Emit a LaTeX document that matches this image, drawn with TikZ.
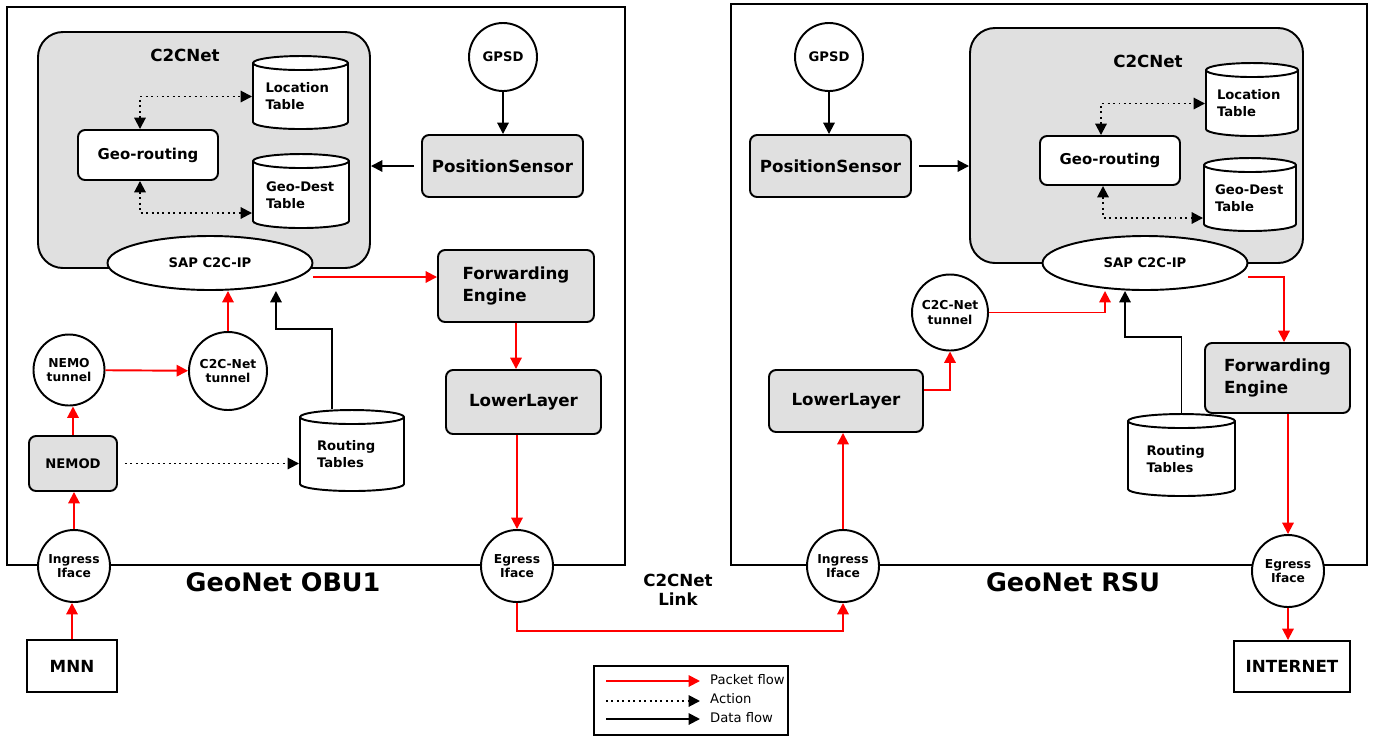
\documentclass[tikz,border=0pt]{standalone}
\usepackage{fontspec}
\setmainfont{DejaVu Sans}
\usepackage{xcolor}
\usepackage{tikz}
\usetikzlibrary{arrows.meta,shapes.geometric}
\definecolor{boxgray}{RGB}{224,224,224}

\begin{document}
\begin{tikzpicture}[x=0.02cm,y=-0.02cm,>={Triangle[length=6.5pt,width=6.5pt]},
  sz/.style 2 args={minimum width=#1*0.02cm,minimum height=#2*0.02cm},
  frame/.style={draw,line width=1.1pt,inner sep=0pt},
  c2cbox/.style={draw,line width=1.1pt,fill=boxgray,rounded corners=0.5cm},
  c2clabel/.style={font=\bfseries\fontsize{9.5}{11}\selectfont},
  modbox/.style={draw,line width=1.1pt,fill=boxgray,rounded corners=4pt,align=left,
    font=\bfseries\fontsize{9.5}{12.5}\selectfont},
  wbox/.style={draw,line width=1.1pt,fill=white,rounded corners=4pt,
    font=\bfseries\fontsize{8.5}{10}\selectfont},
  plainbox/.style={draw,line width=1.1pt,fill=white,font=\bfseries\fontsize{9.5}{11}\selectfont},
  circ/.style={circle,draw,line width=1.1pt,fill=white,inner sep=0pt,align=center,
    minimum size=#1*0.02cm,font=\bfseries\fontsize{7}{8.2}\selectfont},
  circ/.default=72,
  sap/.style={ellipse,draw,line width=1.1pt,fill=white,inner sep=0pt,sz={205}{54},
    font=\bfseries\fontsize{7.5}{9}\selectfont},
  table/.style={cylinder,shape border rotate=90,aspect=0.2,draw,line width=1.1pt,fill=white,
    inner sep=0pt,align=left,text width=1.4cm,font=\bfseries\fontsize{7.5}{9.6}\selectfont},
  title/.style={font=\bfseries\fontsize{14.5}{17}\selectfont},
  legtext/.style={anchor=west,font=\fontsize{7.5}{9}\selectfont},
  pkt/.style={red,line width=1.1pt,->},
  act/.style={line width=1.1pt,dotted,->},
  dat/.style={line width=1.1pt,->}]
\useasboundingbox (0,0) rectangle (1380,738);
% Frames
\node[frame,sz={618}{558}] (obu) at (316,286) {};
\node[frame,sz={636}{561}] (rsu) at (1049,284.5) {};
\node[title] (obul) at (283,582) {GeoNet OBU1};
\node[title] (rsul) at (1073,582) {GeoNet RSU};
\node[c2clabel,align=center] (link) at (678,590) {C2CNet\\Link};

% OBU1
\node[c2cbox,sz={332}{236}] (c2c1) at (204,150) {};
\node[c2clabel] (c2cl1) at (185,55) {C2CNet};
\node[table,sz={95}{73}] (lt1) at (300.5,96.5) {Location\\Table};
\node[table,sz={96}{74}] (gd1) at (301,195) {Geo-Dest\\Table};
\node[wbox,sz={140}{50}] (gr1) at (148,155) {Geo-routing};
\node[sap] (sap1) at (210,263) {SAP C2C-IP};
\node[circ=68,font=\bfseries\fontsize{7.5}{9}\selectfont] (gpsd1) at (503,57) {GPSD};
\node[modbox,sz={161}{62}] (ps1) at (502.5,166) {PositionSensor};
\node[modbox,sz={156}{72}] (fe1) at (516,286) {Forwarding\\Engine};
\node[modbox,sz={155}{64}] (ll1) at (523.5,402) {LowerLayer};
\node[circ=78] (ct1) at (228,371) {C2C-Net\\tunnel};
\node[circ=71] (nt1) at (69,370) {NEMO\\tunnel};
\node[modbox,sz={88}{55},font=\bfseries\fontsize{7.5}{9}\selectfont] (nemod1) at (73,463.5) {NEMOD};
\node[table,sz={104}{81}] (rt1) at (352,454.5) {Routing\\Tables};
\node[circ] (in1) at (74,566) {Ingress\\Iface};
\node[circ] (eg1) at (517,566) {Egress\\Iface};
\node[plainbox,sz={90}{52}] (mnn) at (72,666) {MNN};

% RSU
\node[c2cbox,sz={333}{235}] (c2c2) at (1136.5,145.5) {};
\node[c2clabel] (c2cl2) at (1148,61) {C2CNet};
\node[table,sz={92}{73}] (lt2) at (1252,103.5) {Location\\Table};
\node[table,sz={92}{73}] (gd2) at (1250,198.5) {Geo-Dest\\Table};
\node[wbox,sz={140}{49}] (gr2) at (1110,160.5) {Geo-routing};
\node[sap] (sap2) at (1145,263) {SAP C2C-IP};
\node[circ=68,font=\bfseries\fontsize{7.5}{9}\selectfont] (gpsd2) at (829,57) {GPSD};
\node[modbox,sz={161}{62}] (ps2) at (830.5,166) {PositionSensor};
\node[circ=76] (ct2) at (950,312.5) {C2C-Net\\tunnel};
\node[modbox,sz={154}{62}] (ll2) at (846,401) {LowerLayer};
\node[table,sz={107}{82}] (rt2) at (1181.5,459) {Routing\\Tables};
\node[modbox,sz={145}{70}] (fe2) at (1277.5,378) {Forwarding\\Engine};
\node[circ] (in2) at (843,566) {Ingress\\Iface};
\node[circ] (eg2) at (1288,571) {Egress\\Iface};
\node[plainbox,sz={116}{51}] (inet) at (1292,666.5) {INTERNET};

% Connections OBU1
\draw[dat] (gpsd1) -- (gpsd1 |- ps1.north);
\draw[dat,shorten <=4pt] (ps1.west) -- (ps1.west -| c2c1.east);
\draw[act,<->] ([xshift=-0.16cm]gr1.north) |- (lt1.west);
\draw[act,<->] ([xshift=-0.16cm]gr1.south) |- ([yshift=-0.36cm]gd1.west);
\draw[pkt] ([yshift=-0.28cm]sap1.east) -- ([yshift=-0.28cm]sap1.east -| fe1.west);
\draw[pkt] (fe1.south) -- (fe1.south |- ll1.north);
\draw[pkt] (eg1 |- ll1.south) -- (eg1.north);
\draw[pkt] (ct1.north) -- (ct1 |- sap1.south);
\draw[pkt] (nt1) -- (ct1);
\draw[pkt] (nemod1.north) -- (nemod1.north |- nt1.south);
\draw[act,shorten <=4pt] (nemod1.east) -- (nemod1.east -| rt1.west);
\draw[dat] ([xshift=-0.4cm]rt1.north) -- ++(0,-80) -| ([xshift=1.32cm]sap1.south);
\draw[pkt] (in1.north) -- (in1.north |- nemod1.south);
\draw[pkt] (mnn.north) -- (mnn.north |- in1.south);
\draw[pkt] (eg1.south) -- ++(0,28) -| (in2.south);

% Connections RSU
\draw[dat] (gpsd2) -- (gpsd2 |- ps2.north);
\draw[dat,shorten <=4pt] (ps2.east) -- (ps2.east -| c2c2.west);
\draw[act,<->] ([xshift=-0.18cm]gr2.north) |- (lt2.west);
\draw[act,<->] ([xshift=-0.14cm]gr2.south) |- ([yshift=-0.39cm]gd2.west);
\draw[pkt] (ct2.east) -| ([xshift=-0.8cm]sap2.south);
\draw[pkt] ([yshift=0.22cm]ll2.east) -| (ct2.south);
\draw[pkt] (in2.north) -- (in2.north |- ll2.south);
\draw[dat] (rt2.north) -- ++(0,-76) -| ([xshift=-0.4cm]sap2.south);
\draw[pkt] ([yshift=-0.28cm]sap2.east) -| ([xshift=0.13cm]fe2.north);
\draw[pkt] (eg2 |- fe2.south) -- (eg2.north);
\draw[pkt] (eg2.south) -- (eg2.south |- inet.north);

% Legend
\node[frame,sz={194}{69}] (leg) at (691,700.5) {};
\coordinate (pk0) at (606,681);
\coordinate (pk1) at (700,681);
\coordinate (ac0) at (606,701);
\coordinate (ac1) at (700,701);
\coordinate (da0) at (606,719);
\coordinate (da1) at (700,719);
\draw[pkt] (pk0) -- (pk1);
\draw[act] (ac0) -- (ac1);
\draw[dat] (da0) -- (da1);
\node[legtext] (pkl) at (704,680) {Packet flow};
\node[legtext] (acl) at (704,699) {Action};
\node[legtext] (dal) at (704,718) {Data flow};
\end{tikzpicture}
\end{document}
